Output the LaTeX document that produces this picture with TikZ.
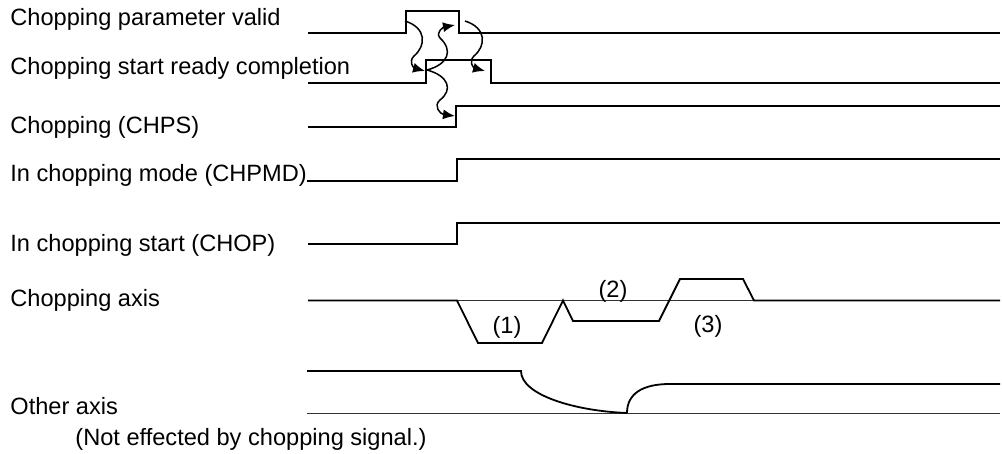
\documentclass[tikz,border=0pt]{standalone}
\usepackage{fontspec}
\setmainfont{Liberation Sans}
\usetikzlibrary{arrows.meta}
\begin{document}
\begin{tikzpicture}[x=0.5pt,y=-0.5pt,
  lbl/.style={anchor=west,inner sep=0pt,font=\fontsize{11.8}{14}\selectfont},
  num/.style={inner sep=0pt,font=\fontsize{11.8}{14}\selectfont},
  sig/.style={line width=0.9pt,line join=miter},
  thin/.style={line width=0.45pt,black!80},
  wavy/.style={line width=0.75pt,-{Latex[length=6pt,width=5pt]}}]
\useasboundingbox (0,0) rectangle (1002,454);
% labels
\node[lbl] (l1) at (10,19) {Chopping parameter valid};
\node[lbl] (l2) at (10,68) {Chopping start ready completion};
\node[lbl] (l3) at (10,127) {Chopping (CHPS)};
\node[lbl] (l4) at (10,175) {In chopping mode (CHPMD)};
\node[lbl] (l5) at (10,245) {In chopping start (CHOP)};
\node[lbl] (l6) at (10,300) {Chopping axis};
\node[lbl] (l7) at (10,406) {Other axis};
\node[lbl] (l8) at (75,439) {(Not effected by chopping signal.)};
% waveforms
\draw[sig] (308,33) -- (406,33) -- (406,11) -- (459,11) -- (459,33) -- (1000,33);
\draw[sig] (308,83) -- (426,83) -- (426,60) -- (491,60) -- (491,83) -- (1000,83);
\draw[sig] (308,127) -- (456,127) -- (456,106) -- (1000,106);
\draw[sig] (307,181) -- (457,181) -- (457,159) -- (1000,159);
\draw[sig] (308,244) -- (457,244) -- (457,223) -- (1000,223);
% chopping axis
\draw[thin] (457,300.5) -- (754,300.5);
\draw[sig] (308,300.5) -- (457,300.5) -- (478,343) -- (542,343) -- (563,300.5)
  -- (573,321) -- (659,321) -- (680,279) -- (743,279) -- (754,300.5) -- (1000,300.5);
\node[num] (n1) at (507,327) {(1)};
\node[num] (n2) at (613,291) {(2)};
\node[num] (n3) at (708,326) {(3)};
% other axis
\draw[thin] (307,413) -- (1000,413);
\draw[sig] (307,371) -- (521,371) .. controls (521,395) and (575,411) .. (627,413);
\draw[sig] (627,413) .. controls (627,394) and (642,384) .. (670,384) -- (1000,384);
% wavy cause arrows
\coordinate (a1s) at (405,21);
\coordinate (a1e) at (425,71);
\coordinate (a2s) at (427,70);
\coordinate (a2e) at (455,25);
\coordinate (a3s) at (465,21);
\coordinate (a3e) at (485,71);
\coordinate (a4e) at (455,116);
\draw[wavy] (a1s) .. controls (427,28) and (426,46) .. (414,56) .. controls (408,62) and (414,68) .. (a1e);
\draw[wavy] (a2s) .. controls (449,64) and (453,50) .. (440,38) .. controls (435,32) and (444,27) .. (a2e);
\draw[wavy] (a3s) .. controls (487,28) and (486,46) .. (474,56) .. controls (468,62) and (474,68) .. (a3e);
\draw[wavy] (a2s) .. controls (449,76) and (453,90) .. (440,100) .. controls (433,106) and (440,114) .. (a4e);
\end{tikzpicture}
\end{document}
